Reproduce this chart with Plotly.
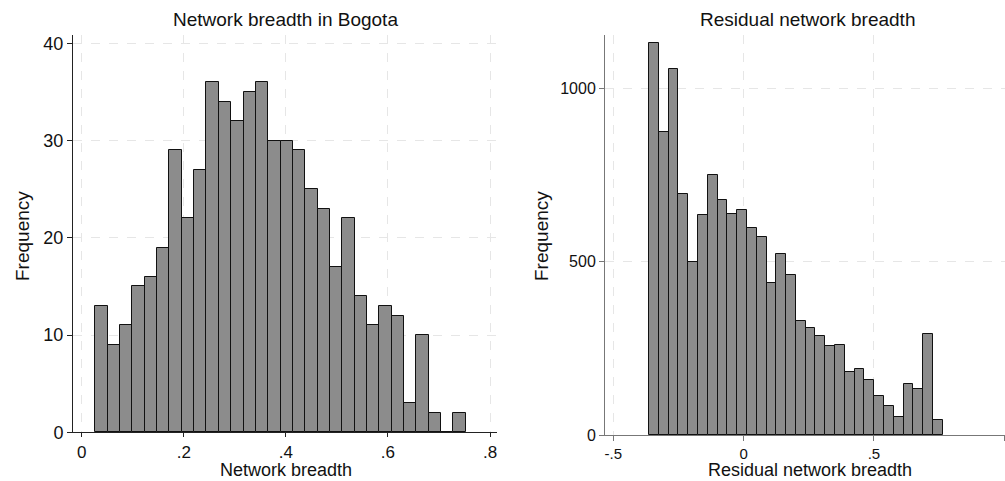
import plotly.graph_objects as go

# ---------------- data ----------------
# Left panel: Network breadth in Bogota (30 bins)
left_bin_start = 0.0268
left_bin_width = 0.02419
left_counts = [13, 9, 11, 15, 16, 19, 29, 22, 27, 36, 34, 32, 35, 36, 30,
               30, 29, 25, 23, 17, 22, 14, 11, 13, 12, 3, 10, 2, 0, 2]
left_xticks = [0, 0.2, 0.4, 0.6, 0.8]
left_xticktext = ["0", ".2", ".4", ".6", ".8"]
left_yticks = [0, 10, 20, 30, 40]

# Right panel: Residual network breadth (30 bins)
right_bin_start = -0.3631
right_bin_width = 0.03758
right_counts = [1131, 875, 1056, 695, 500, 635, 751, 680, 637, 649, 598, 573,
                438, 523, 461, 329, 308, 285, 257, 259, 181, 192, 158, 112,
                83, 52, 146, 132, 293, 42]
right_xticks = [-0.5, 0, 0.5, 1]
right_xticktext = ["-.5", "0", ".5", "1"]
right_yticks = [0, 500, 1000]

W, H = 1005, 481
FONT = "Liberation Sans, Arial, sans-serif"
TXT = "#111111"


def px_x(p):
    return p / W


def px_y(p):
    return 1 - p / H


def centers(start, width, n):
    return [start + width * (i + 0.5) for i in range(n)]


fig = go.Figure()

fig.add_trace(go.Bar(
    x=centers(left_bin_start, left_bin_width, len(left_counts)),
    y=left_counts, width=left_bin_width,
    marker=dict(color="#8c8c8c", line=dict(color="#111111", width=1)),
    xaxis="x", yaxis="y", showlegend=False, hoverinfo="x+y",
))
fig.add_trace(go.Bar(
    x=centers(right_bin_start, right_bin_width, len(right_counts)),
    y=right_counts, width=right_bin_width,
    marker=dict(color="#8c8c8c", line=dict(color="#111111", width=1)),
    xaxis="x2", yaxis="y2", showlegend=False, hoverinfo="x+y",
))

grid = dict(showgrid=True, gridcolor="#e6e6e6", gridwidth=1, griddash="dash",
            zeroline=False, showline=True, ticks="outside",
            automargin=False)

fig.update_layout(
    width=W, height=H,
    margin=dict(l=0, r=0, t=0, b=0),
    paper_bgcolor="white", plot_bgcolor="white",
    bargap=0,
    font=dict(family=FONT, color=TXT),
    xaxis=dict(domain=[px_x(73), px_x(497)], range=[-0.017, 0.8137],
               tickvals=left_xticks, ticktext=left_xticktext, ticklen=4,
               tickfont=dict(size=17, color=TXT), linecolor="#222222",
               tickcolor="#222222", anchor="y", **grid),
    yaxis=dict(domain=[px_y(432.3), px_y(35)], range=[0, 40.85],
               tickvals=left_yticks, tickfont=dict(size=18, color=TXT), ticklen=5,
               linecolor="#222222", tickcolor="#222222", anchor="x", **grid),
    xaxis2=dict(domain=[px_x(605), 1.0], range=[-0.532, 1.003],
                tickvals=right_xticks, ticktext=right_xticktext, ticklen=5,
                tickfont=dict(size=15, color=TXT), linecolor="#777777",
                tickcolor="#777777", anchor="y2", **grid),
    yaxis2=dict(domain=[px_y(435), px_y(35)], range=[0, 1155],
                tickvals=right_yticks, tickfont=dict(size=16, color=TXT), ticklen=5,
                linecolor="#777777", tickcolor="#777777", anchor="x2", **grid),
)

ann = [
    dict(text="Network breadth in Bogota", x=px_x(285), y=px_y(19), size=19,
         angle=0, yanchor="middle"),
    dict(text="Residual network breadth", x=px_x(807), y=px_y(19), size=19,
         angle=0, yanchor="middle"),
    dict(text="Network breadth", x=px_x(286), y=0.0, size=18, angle=0,
         yanchor="bottom"),
    dict(text="Residual network breadth", x=px_x(810), y=0.0, size=18, angle=0,
         yanchor="bottom"),
    dict(text="Frequency", x=px_x(22), y=px_y(236), size=19, angle=-90,
         yanchor="middle"),
    dict(text="Frequency", x=px_x(541), y=px_y(236), size=19, angle=-90,
         yanchor="middle"),
]
for a in ann:
    fig.add_annotation(text=a["text"], x=a["x"], y=a["y"], xref="paper", yref="paper",
                       xanchor="center", yanchor=a["yanchor"], showarrow=False,
                       textangle=a["angle"], borderpad=0,
                       font=dict(size=a["size"], color=TXT, family=FONT))

fig.write_html(
    "out.html",
    config={"displayModeBar": False},
    post_script="document.body.style.margin='0';document.body.style.overflow='hidden';",
)
